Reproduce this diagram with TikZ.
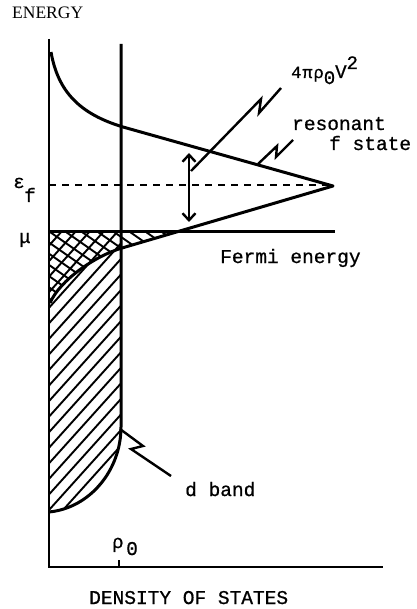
\documentclass[tikz,border=0pt]{standalone}
\usepackage{fontspec}
\newfontfamily\tfont[FakeBold=0.8]{Liberation Mono}
\newfontfamily\serfont{Liberation Serif}
\usetikzlibrary{arrows.meta}
\begin{document}
\begin{tikzpicture}[x=1pt,y=-1pt,
  curve/.style={line width=3pt, line join=round},
  axis/.style={line width=2.6pt},
  hatch/.style={line width=1.9pt},
  lead/.style={line width=2.4pt, line join=miter},
  tw/.style={font=\tfont\fontsize{19.5}{22}\selectfont, inner sep=0pt, anchor=base west},
  gr/.style={font=\tfont\fontsize{19}{20}\selectfont, inner sep=0pt, anchor=base west},
  dbl/.style={line width=2.4pt, {Straight Barb[length=7pt,width=13pt]}-{Straight Barb[length=7pt,width=13pt]}}
]
\useasboundingbox (0,0) rectangle (416,609);

% hatching of the d band (occupied)
\begin{scope}
\clip (49,232) -- (121,232) -- (121,427) .. controls (121,470) and (90,508) .. (49,512) -- cycle;
\foreach \c in {-240,-226,...,140} \draw[hatch] (\c,520) -- ++(270,-300);
\end{scope}
% hatching of the f state (occupied)
\begin{scope}
\clip (49,232) -- (177,232) -- (122,248) .. controls (95,256) and (60,280) .. (50,303) -- (49,303) -- cycle;
\foreach \c in {-120,-104,...,200} \draw[hatch] (\c,225) -- ++(150,105);
\end{scope}

% axes
\coordinate (ytop) at (49,39);
\coordinate (orig) at (49,567);
\coordinate (xend) at (383,567);
\draw[axis] (ytop) -- (orig) -- (xend);
\coordinate (tickb) at (119,567);
\coordinate (tickt) at (119,560);
\draw[axis] (tickb) -- (tickt);

% d band
\draw[curve] (121,44) -- (121,427) .. controls (121,470) and (90,508) .. (49,512);

% resonant f state
\draw[curve] (51,52) .. controls (58,92) and (80,114) .. (123,127) -- (333,186) -- (122,248)
  .. controls (95,256) and (60,280) .. (50,303);

% Fermi level and eps_f
\coordinate (muL) at (49,232);
\coordinate (muR) at (335,232);
\draw[curve] (muL) -- (muR);
\coordinate (efL) at (49,185);
\coordinate (efR) at (333,185);
\draw[line width=2.4pt, dash pattern=on 7pt off 6pt] (efL) -- (efR);

% width arrow
\coordinate (Atop) at (189,153);
\coordinate (Abot) at (189,222);
\draw[dbl] (Atop) -- (Abot);

% leaders
\coordinate (L1s) at (191,171);
\coordinate (L1a) at (261,99);
\coordinate (L1b) at (259,113);
\coordinate (L1e) at (281,88);
\draw[lead] (L1s) -- (L1a) -- (L1b) -- (L1e);
\coordinate (L2s) at (258,164);
\coordinate (L2a) at (277,146);
\coordinate (L2b) at (276,157);
\coordinate (L2e) at (293,140);
\draw[lead] (L2s) -- (L2a) -- (L2b) -- (L2e);
\coordinate (L3s) at (120,429);
\coordinate (L3a) at (143,446);
\coordinate (L3b) at (131,449);
\coordinate (L3e) at (171,476);
\draw[lead] (L3s) -- (L3a) -- (L3b) -- (L3e);

% labels
\node[font=\serfont\fontsize{17.5}{18}\selectfont, inner sep=0pt, anchor=base west] (energy) at (12,19) {ENERGY};
\node[tw] (dos) at (89,604) {DENSITY OF STATES};
\node[tw] (fermi) at (220,263) {Fermi energy};
\node[tw] (dband) at (185,496) {d band};
\node[tw] (res) at (292,130) {resonant};
\node[tw] (fst) at (329,150) {f state};
\node[gr] (eps) at (13,188) {ε};
\node[tw] (epsf) at (24,202) {f};
\node[gr] (mu) at (19,243) {μ};
\node[gr] (rho) at (112,548) {ρ};
\node[tw] (rhoz) at (126,555) {0};
\node[tw, font=\tfont\fontsize{17}{18}\selectfont] (coup) at (291,78)
  {4\kern1ptπ\kern1ptρ\raisebox{-6pt}{\fontsize{19}{20}\selectfont 0}\fontsize{19}{20}\selectfont V\raisebox{9pt}{2}};
\end{tikzpicture}
\end{document}
